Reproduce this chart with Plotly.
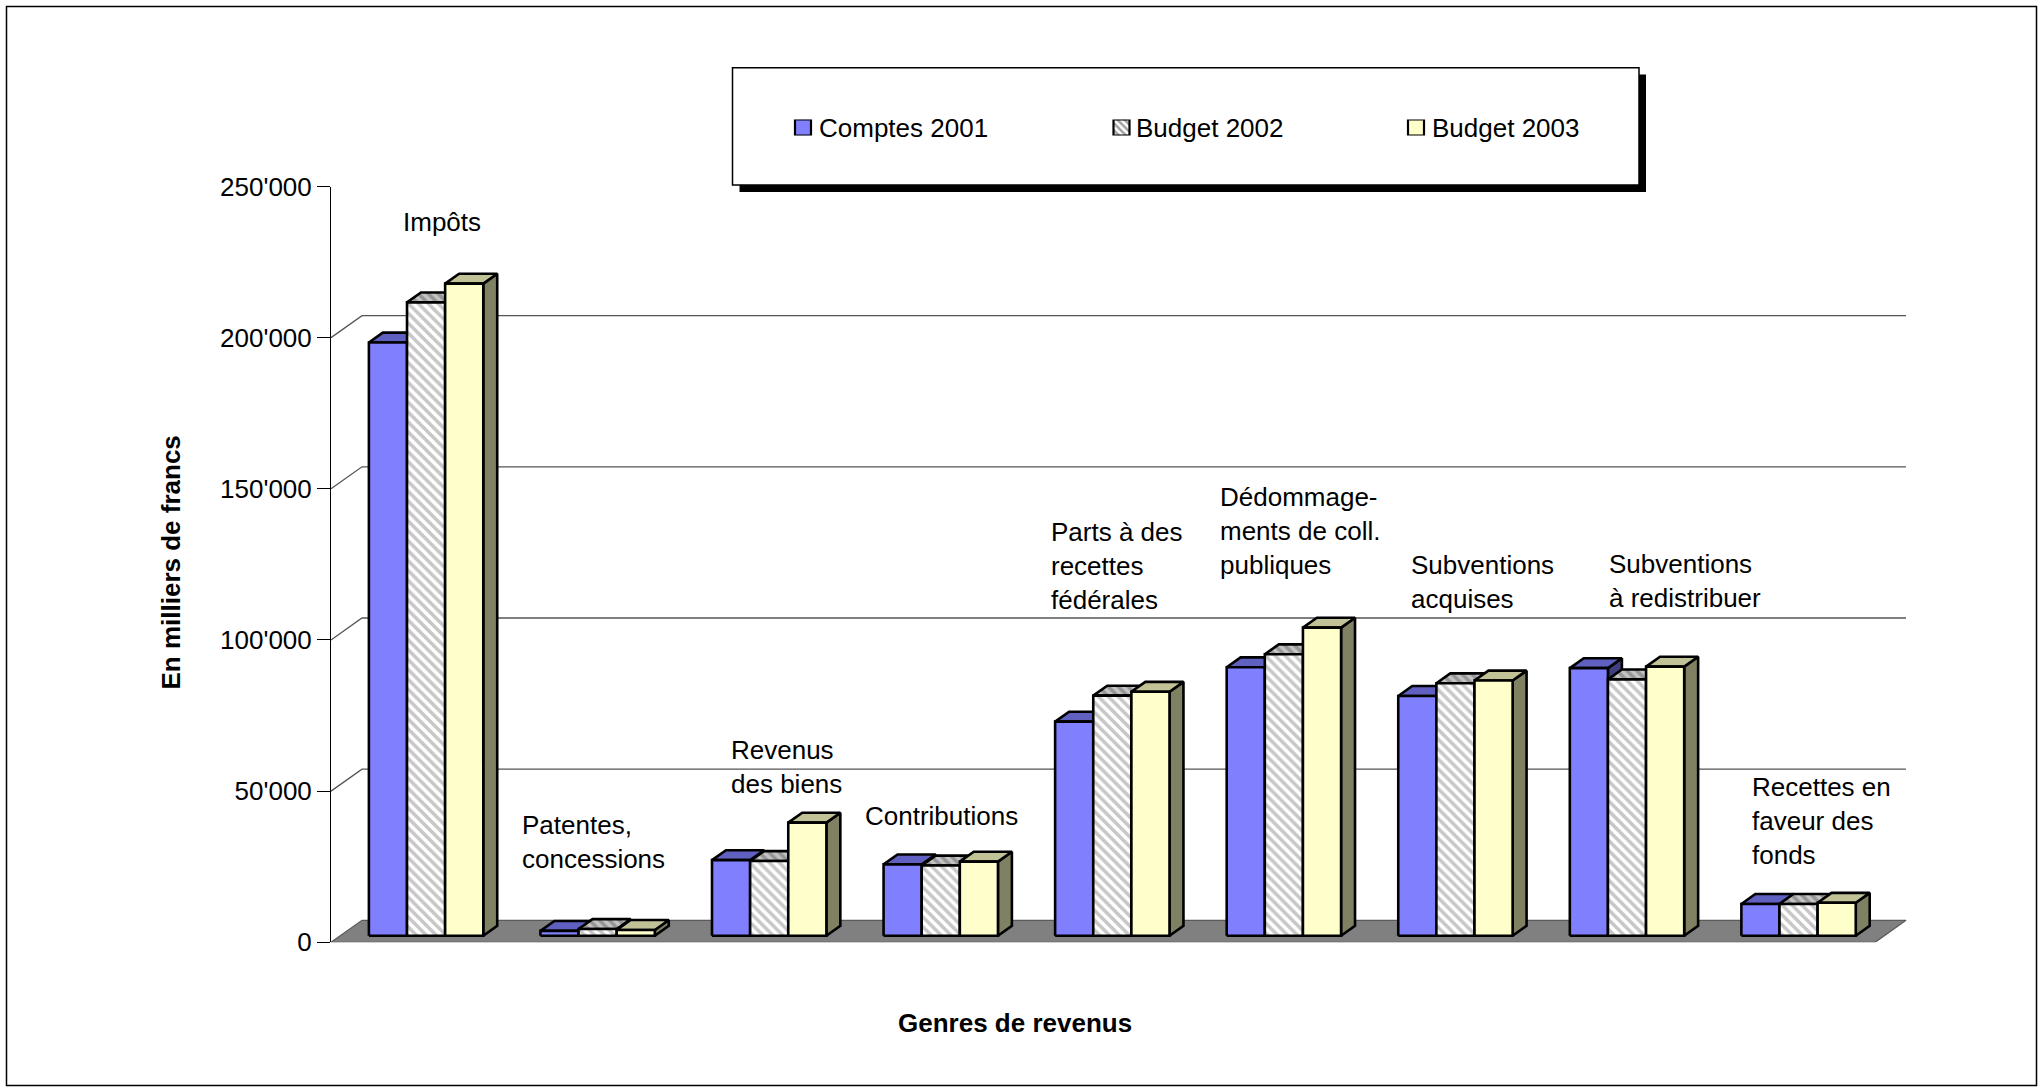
import plotly.graph_objects as go

# ---- data (values in francs, axis labelled in thousands) ----
categories = ["Impôts", "Patentes, concessions", "Revenus des biens", "Contributions",
              "Parts à des recettes fédérales", "Dédommagements de coll. publiques",
              "Subventions acquises", "Subventions à redistribuer",
              "Recettes en faveur des fonds"]
category_labels = ["Impôts", "Patentes,<br>concessions", "Revenus<br>des biens", "Contributions",
                   "Parts à des<br>recettes<br>fédérales", "Dédommage-<br>ments de coll.<br>publiques",
                   "Subventions<br>acquises", "Subventions<br>à redistribuer",
                   "Recettes en<br>faveur des<br>fonds"]
series_names = ["Comptes 2001", "Budget 2002", "Budget 2003"]
comptes_2001 = [196200, 1600, 25000, 23600, 70800, 88800, 79300, 88500, 10500]
budget_2002 = [209500, 2200, 24700, 23200, 79400, 93100, 83500, 84800, 10500]
budget_2003 = [215700, 1900, 37400, 24500, 80700, 101900, 84400, 89000, 10900]
y_ticks = [0, 50000, 100000, 150000, 200000, 250000]
y_title = "En milliers de francs"
x_title = "Genres de revenus"

series_values = [comptes_2001, budget_2002, budget_2003]

# ---- page geometry (pixels) ----
W, H = 2040, 1092
PLOT_LEFT = 331.0
CAT_PX = 171.56               # width of one category on the front plane
Y_ZERO_PX, Y_TOP_PX = 942.3, 186.5
Y_MAX = 250000
X_MAX = 9.25
N = len(categories)

# oblique depth of the floor (full depth) in pixels
DEPTH_DX_PX, DEPTH_DY_PX = 31.0, 22.0
px_per_val = (Y_ZERO_PX - Y_TOP_PX) / Y_MAX
DX = DEPTH_DX_PX / CAT_PX
DY = DEPTH_DY_PX / px_per_val
BAR_D0, BAR_D1 = 0.30, 0.75   # bars sit in the middle of the floor depth
GROUP_W = 2.0 / 3.0           # 50 % gap width
BAR_W = GROUP_W / 3.0


def proj(x, v, d):
    """Oblique projection of (category x, value, depth) into axis units."""
    return x + d * DX, v + d * DY


def poly_trace(polys, fill=None, pattern=None, line_color="black", line_width=2.6):
    xs, ys = [], []
    for pts in polys:
        for (px_, py_) in pts + [pts[0]]:
            xs.append(px_)
            ys.append(py_)
        xs.append(None)
        ys.append(None)
    kw = dict(x=xs, y=ys, mode="lines", fill="toself",
              line=dict(color=line_color, width=line_width),
              hoverinfo="skip", showlegend=False)
    if pattern:
        kw["fillpattern"] = pattern
        kw["fillcolor"] = pattern["bgcolor"]
    else:
        kw["fillcolor"] = fill
    return go.Scatter(**kw)


fig = go.Figure()

# floor
floor = [[proj(0, 0, 0), proj(N, 0, 0), proj(N, 0, 1), proj(0, 0, 1)]]
fig.add_trace(poly_trace(floor, fill="#808080", line_color="#5a5a5a", line_width=1.2))

# back-wall gridlines with their diagonal on the side wall
gx, gy = [], []
for v in y_ticks[1:-1]:
    for p in (proj(0, v, 0), proj(0, v, 1), proj(N, v, 1)):
        gx.append(p[0])
        gy.append(p[1])
    gx.append(None)
    gy.append(None)
fig.add_trace(go.Scatter(x=gx, y=gy, mode="lines", line=dict(color="#555555", width=1.3),
                         hoverinfo="skip", showlegend=False))

# face styles per series: (front, top, side)
styles = [
    [dict(fill="#8080FF"), dict(fill="#6060C0"), dict(fill="#404080")],
    [dict(pattern=dict(shape="\\", fgcolor="#8f8f8f", bgcolor="#ffffff", size=7, solidity=0.5)),
     dict(pattern=dict(shape="\\", fgcolor="#666666", bgcolor="#c4c4c4", size=7, solidity=0.5)),
     dict(pattern=dict(shape="\\", fgcolor="#4c4c4c", bgcolor="#8c8c8c", size=7, solidity=0.5))],
    [dict(fill="#FFFFCC"), dict(fill="#C2C297"), dict(fill="#808062")],
]

for s, vals in enumerate(series_values):
    fronts, tops, sides = [], [], []
    for i, v in enumerate(vals):
        xl = i + 0.5 - GROUP_W / 2 + s * BAR_W
        xr = xl + BAR_W
        fronts.append([proj(xl, 0, BAR_D0), proj(xr, 0, BAR_D0), proj(xr, v, BAR_D0), proj(xl, v, BAR_D0)])
        tops.append([proj(xl, v, BAR_D0), proj(xr, v, BAR_D0), proj(xr, v, BAR_D1), proj(xl, v, BAR_D1)])
        sides.append([proj(xr, 0, BAR_D0), proj(xr, 0, BAR_D1), proj(xr, v, BAR_D1), proj(xr, v, BAR_D0)])
    front_st, top_st, side_st = styles[s]
    fig.add_trace(poly_trace(sides, **side_st))
    fig.add_trace(poly_trace(tops, **top_st))
    fig.add_trace(poly_trace(fronts, **front_st))

# legend swatches on their own small subplot (x in page pixels)
legend_sym_x = [803, 1121.5, 1416]
legend_txt_x = [817, 1134, 1430]
LEG_Y = 127.5
fig.add_trace(go.Bar(
    x=legend_sym_x, y=[1, 1, 1], width=16, xaxis="x2", yaxis="y2",
    marker=dict(color=["#8080FF", "#ffffff", "#FFFFCC"],
                line=dict(color="black", width=2.2),
                pattern=dict(shape=["", "\\", ""], fgcolor="#808080", bgcolor=["#8080FF", "#ffffff", "#FFFFCC"],
                             size=5, solidity=0.5)),
    hoverinfo="skip", showlegend=False))


def px_x(p):
    return p / W


def px_y(p):
    return 1 - p / H


FONT = "Liberation Sans, Arial, sans-serif"
annotations = []

# category labels (left edge px, vertical centre px)
label_pos = [(401, 222.5), (520, 842), (728.5, 767), (862.5, 816), (1048.5, 566),
             (1217.5, 531), (1409, 581.5), (1607, 580.5), (1750, 821)]
for txt, (lx, ly) in zip(category_labels, label_pos):
    annotations.append(dict(text=txt, x=px_x(lx), y=px_y(ly), xref="paper", yref="paper",
                            xanchor="left", yanchor="middle", align="left", showarrow=False,
                            font=dict(family=FONT, size=26, color="black")))

for name, tx in zip(series_names, legend_txt_x):
    annotations.append(dict(text=name, x=px_x(tx), y=px_y(LEG_Y), xref="paper", yref="paper",
                            xanchor="left", yanchor="middle", showarrow=False,
                            font=dict(family=FONT, size=26, color="black")))

annotations.append(dict(text="<b>%s</b>" % x_title, x=px_x(1015), y=px_y(1023), xref="paper", yref="paper",
                        xanchor="center", yanchor="middle", showarrow=False,
                        font=dict(family=FONT, size=26, color="black")))
annotations.append(dict(text="<b>%s</b>" % y_title, x=px_x(170.5), y=px_y(563), xref="paper", yref="paper",
                        xanchor="center", yanchor="middle", textangle=-90, showarrow=False,
                        font=dict(family=FONT, size=26, color="black")))

shapes = [
    # legend shadow and frame
    dict(type="rect", xref="paper", yref="paper", layer="below",
         x0=px_x(739.5), x1=px_x(1646), y0=px_y(192), y1=px_y(74.5),
         fillcolor="black", line=dict(width=0)),
    dict(type="rect", xref="paper", yref="paper", layer="below",
         x0=px_x(732.5), x1=px_x(1639), y0=px_y(185), y1=px_y(67.7),
         fillcolor="white", line=dict(color="black", width=1.5)),
    # chart frame
    dict(type="rect", xref="paper", yref="paper", layer="below",
         x0=px_x(6.5), x1=px_x(2036.5), y0=px_y(1085.5), y1=px_y(6.5),
         fillcolor="rgba(0,0,0,0)", line=dict(color="black", width=1.5)),
]

fig.update_layout(
    width=W, height=H, autosize=False,
    margin=dict(l=0, r=0, t=0, b=0, pad=0, autoexpand=False),
    paper_bgcolor="white", plot_bgcolor="rgba(0,0,0,0)",
    separators=".'",
    hovermode=False,
    showlegend=False,
    xaxis=dict(domain=[px_x(PLOT_LEFT), px_x(PLOT_LEFT + X_MAX * CAT_PX)], range=[0, X_MAX],
               visible=False, fixedrange=True, automargin=False),
    yaxis=dict(domain=[px_y(Y_ZERO_PX), px_y(Y_TOP_PX)], range=[0, Y_MAX],
               tickvals=y_ticks, tickformat=",d", ticks="outside", ticklen=13, tickwidth=1,
               tickcolor="black", showline=True, linecolor="black", linewidth=1,
               showgrid=False, zeroline=False, fixedrange=True, automargin=False,
               tickfont=dict(family=FONT, size=26, color="black")),
    xaxis2=dict(domain=[0, 1], range=[0, W], visible=False, anchor="y2", fixedrange=True),
    yaxis2=dict(domain=[px_y(LEG_Y + 8), px_y(LEG_Y - 8)], range=[0, 1], visible=False,
                anchor="x2", fixedrange=True),
    annotations=annotations,
    shapes=shapes,
)

# pin the chart to the top-left corner of the page
page_css = ("document.documentElement.style.margin='0';"
            "document.body.style.margin='0';document.body.style.overflow='hidden';"
            "var d=document.getElementById('{plot_id}');"
            "d.style.position='fixed';d.style.left='0px';d.style.top='0px';")

fig.write_html("out.html", config={"displayModeBar": False}, post_script=page_css)
